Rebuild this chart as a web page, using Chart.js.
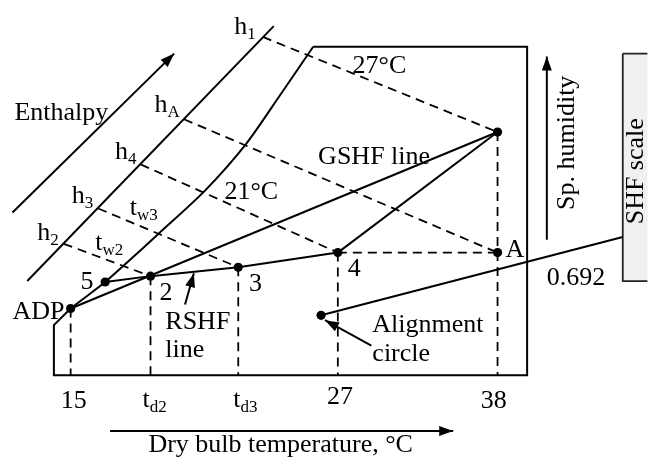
<!DOCTYPE html>
<html>
<head>
<meta charset="utf-8">
<script src="https://cdn.jsdelivr.net/npm/chart.js@4/dist/chart.umd.min.js"></script>
<style>
  html, body { margin: 0; padding: 0; background: #fff; }
  #wrap { width: 652px; height: 466px; }
</style>
</head>
<body>
<div id="wrap"><canvas id="chart" width="652" height="466"></canvas></div>
<script>
// drawing units: x to the right, y downward (same frame as the figure)

// state points
const pointNames = ['ADP', '5', '2', '3', '4', 'A', 'O', 'AC'];
const pointX     = [67, 102, 148, 237, 338, 500, 500, 321];
const pointY     = [310, 283, 277, 268, 253, 253, 130, 317];

// chart outline and saturation curve
const outlineX = [313, 530, 530, 50, 50, 67];
const outlineY = [43, 43, 378, 378, 327, 310];
const satCurveX = [313, 279, 245, 203, 157, 120, 102, 67];
const satCurveY = [43, 93, 142, 190, 233, 267, 283, 310];

// enthalpy scale line and where the enthalpy dashes start
const enthalpyLineX = [23, 273];
const enthalpyLineY = [282, 22];
const hNames  = ['h1', 'hA', 'h4', 'h3', 'h2'];
const hX      = [262, 182, 138, 95, 60];
const hY      = [33, 117, 163, 208, 244];
const hTarget = ['O', 'A', '4', '3', '2'];

// dry bulb ticks
const tickNames = ['15', 'td2', 'td3', '27', '38'];
const tickFrom  = ['ADP', '2', '3', '4', 'O'];
const baseY = 378;

// SHF scale
const shfValue = '0.692';
const shfBoxX = [627, 662, 662, 627, 627];
const shfBoxY = [50, 50, 282, 282, 50];

const P = name => {
  const i = pointNames.indexOf(name);
  return { x: pointX[i], y: pointY[i] };
};
const xy = (xs, ys) => xs.map((x, i) => ({ x, y: ys[i] }));

const solid = { borderColor: '#000', borderWidth: 2, pointRadius: 0, showLine: true, fill: false, tension: 0 };
const dashed = { ...solid, borderWidth: 1.8, borderDash: [9, 6] };

const datasets = [];
datasets.push({ ...solid, data: xy(outlineX, outlineY) });
datasets.push({ ...solid, data: xy(satCurveX, satCurveY), tension: 0.25 });
datasets.push({ ...solid, data: xy(enthalpyLineX, enthalpyLineY) });

// enthalpy dashes
hNames.forEach((n, i) => {
  datasets.push({ ...dashed, data: [{ x: hX[i], y: hY[i] }, P(hTarget[i])] });
});
// vertical dashes down to the dry bulb axis
tickFrom.forEach(n => {
  const p = P(n);
  datasets.push({ ...dashed, data: [p, { x: p.x, y: baseY }] });
});
datasets.push({ ...dashed, data: [P('4'), P('A')] });

// process lines
datasets.push({ ...solid, data: [P('ADP'), P('O')] });            // GSHF line
datasets.push({ ...solid, data: ['5', '2', '3', '4'].map(P) });   // RSHF line
datasets.push({ ...solid, data: [P('4'), P('O')] });
datasets.push({ ...solid, data: [P('AC'), { x: shfBoxX[0], y: 237 }] }); // alignment

// SHF scale box
datasets.push({ ...solid, data: xy(shfBoxX, shfBoxY), borderWidth: 1.8, borderColor: '#222', backgroundColor: '#f0f0f0', fill: 'shape', order: 5 });

// arrows
const arrows = [
  [[8, 212], [172, 50]],
  [[550, 240], [550, 53]],
  [[107, 435], [455, 435]],
  [[183, 306], [192, 274]],
  [[372, 348], [325, 322]]
];
arrows.forEach(a => {
  datasets.push({ ...solid, arrow: true, data: a.map(p => ({ x: p[0], y: p[1] })) });
});

// dots
datasets.push({
  data: pointNames.map(P), showLine: false,
  pointRadius: 4.6, pointBackgroundColor: '#000', pointBorderColor: '#000', pointBorderWidth: 0
});

// text labels: [text, subscript, left, baseline]
const labels = [
  ['Enthalpy', '', 10, 118],
  ['h', '1', 233, 30], ['h', 'A', 152, 110], ['h', '4', 112, 157],
  ['h', '3', 68, 202], ['h', '2', 33, 240],
  ['t', 'w3', 127, 215], ['t', 'w2', 92, 250],
  ['27°C', '', 353, 70], ['21°C', '', 223, 198], ['GSHF line', '', 318, 163],
  ['5', '', 77, 290], ['2', '', 157, 301], ['3', '', 248, 292], ['4', '', 348, 277],
  ['A', '', 508, 257], ['ADP', '', 8, 321],
  ['RSHF', '', 163, 331], ['line', '', 163, 359],
  ['Alignment', '', 373, 334], ['circle', '', 373, 364],
  [shfValue, '', 550, 286],
  ['15', '', 57, 412], ['t', 'd2', 140, 410], ['t', 'd3', 232, 410],
  ['27', '', 327, 407], ['38', '', 483, 412]
];
const centered = [['Dry bulb temperature, °C', 280, 456]];
const rotated = [['Sp. humidity', 571, 141], ['SHF scale', 641, 170]];

const FONT = '"Liberation Serif", "Times New Roman", serif';

const annot = {
  id: 'annot',
  afterDatasetsDraw(chart) {
    const { ctx, scales: { x, y } } = chart;
    const px = v => x.getPixelForValue(v);
    const py = v => y.getPixelForValue(v);
    ctx.save();

    // arrowheads
    chart.data.datasets.forEach(ds => {
      if (!ds.arrow) return;
      const n = ds.data.length;
      const a = ds.data[n - 2], b = ds.data[n - 1];
      const x1 = px(a.x), y1 = py(a.y), x2 = px(b.x), y2 = py(b.y);
      const ang = Math.atan2(y2 - y1, x2 - x1);
      const L = 14, W = 5;
      ctx.fillStyle = '#000';
      ctx.beginPath();
      ctx.moveTo(x2, y2);
      ctx.lineTo(x2 - L * Math.cos(ang) + W * Math.sin(ang), y2 - L * Math.sin(ang) - W * Math.cos(ang));
      ctx.lineTo(x2 - L * Math.cos(ang) - W * Math.sin(ang), y2 - L * Math.sin(ang) + W * Math.cos(ang));
      ctx.closePath();
      ctx.fill();
    });

    ctx.fillStyle = '#000';
    ctx.textBaseline = 'alphabetic';
    ctx.textAlign = 'left';
    labels.forEach(([t, sub, lx, ly]) => {
      ctx.font = '26px ' + FONT;
      ctx.fillText(t, px(lx), py(ly));
      if (sub) {
        const w = ctx.measureText(t).width;
        ctx.font = '17px ' + FONT;
        ctx.fillText(sub, px(lx) + w, py(ly) + 5);
      }
    });
    ctx.font = '26px ' + FONT;
    ctx.textAlign = 'center';
    centered.forEach(([t, cx, cy]) => ctx.fillText(t, px(cx), py(cy)));
    ctx.textBaseline = 'middle';
    rotated.forEach(([t, cx, cy]) => {
      ctx.save();
      ctx.translate(px(cx), py(cy));
      ctx.rotate(-Math.PI / 2);
      ctx.fillText(t, 0, 0);
      ctx.restore();
    });
    ctx.restore();
  }
};

new Chart(document.getElementById('chart'), {
  type: 'scatter',
  data: { datasets },
  options: {
    responsive: false,
    animation: false,
    layout: { padding: 0 },
    plugins: { legend: { display: false }, tooltip: { enabled: false } },
    scales: {
      x: { type: 'linear', min: 0, max: 652, display: false },
      y: { type: 'linear', min: 0, max: 466, reverse: true, display: false }
    }
  },
  plugins: [annot]
});
</script>
</body>
</html>
